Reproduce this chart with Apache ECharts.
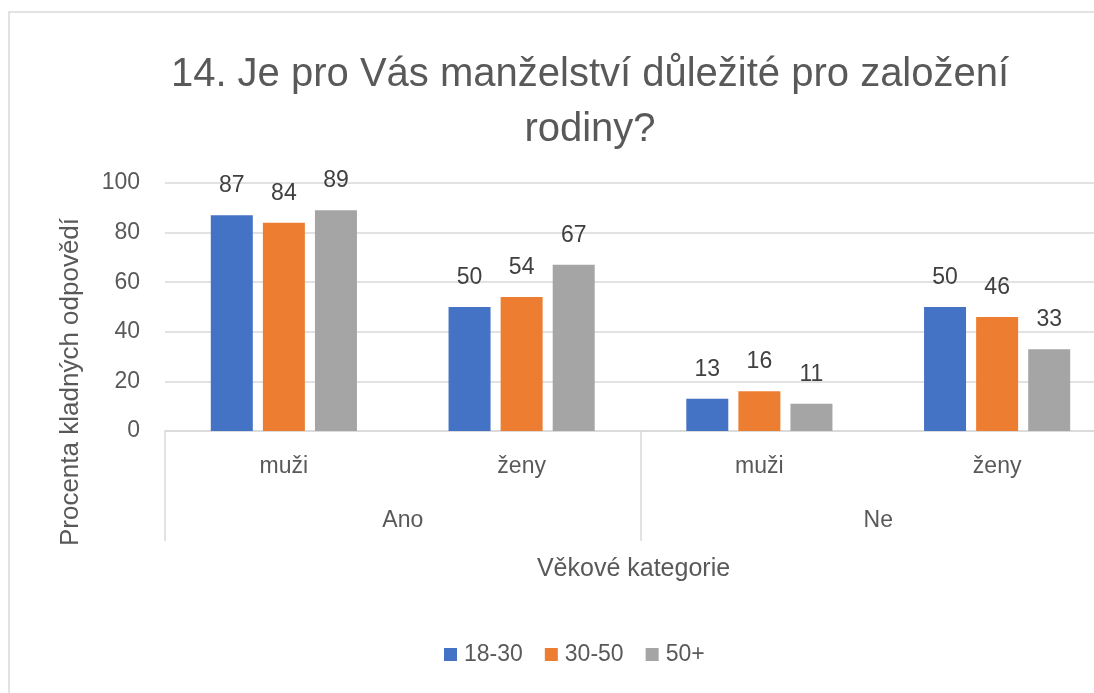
<!DOCTYPE html>
<html>
<head>
    <meta charset='utf-8'>
    <script src="https://cdn.jsdelivr.net/npm/echarts@6/dist/echarts.min.js"></script>
</head>
<body>
<style>
    html, body, #main {
        width: 100%;
        height: 100%;
        margin: 0;
        padding: 0;
        background: #fff;
    }
</style>
<div id="main"></div>
<script>
    var subCategories = ['muži', 'ženy', 'muži', 'ženy'];
    var groups = ['Ano', 'Ne'];
    var seriesNames = ['18-30', '30-50', '50+'];
    var values1830 = [87, 50, 13, 50];
    var values3050 = [84, 54, 16, 46];
    var values50 = [89, 67, 11, 33];
    var colors = ['#4472c4', '#ed7d31', '#a5a5a5'];

    var font = 'Liberation Sans, sans-serif';
    var chart = echarts.init(document.getElementById('main'));

    function bar(name, data, idx) {
        return {
            name: name,
            type: 'bar',
            data: data,
            barWidth: 42,
            barGap: '24%',
            itemStyle: {color: colors[idx]},
            label: {
                show: true,
                position: 'top',
                distance: 18,
                color: '#404040',
                fontSize: 23,
                fontFamily: font
            }
        };
    }

    chart.setOption({
        animation: false,
        title: {
            text: '14. Je pro Vás manželství důležité pro založení\nrodiny?',
            left: 585,
            textAlign: 'center',
            top: 42,
            textStyle: {
                color: '#595959',
                fontSize: 40,
                fontWeight: 'normal',
                fontFamily: font,
                lineHeight: 55
            }
        },
        legend: {
            top: 638,
            left: 439,
            itemWidth: 13,
            itemHeight: 13,
            itemGap: 22,
            icon: 'rect',
            textStyle: {color: '#595959', fontSize: 23, fontFamily: font, padding: [0, 0, 0, 2]},
            data: seriesNames
        },
        grid: {
            left: 165,
            width: 951,
            top: 183,
            height: 248,
            outerBoundsMode: 'none'
        },
        graphic: [{
            type: 'rect',
            shape: {x: 9, y: 12, width: 1200, height: 800},
            style: {fill: 'none', stroke: '#d9d9d9', lineWidth: 1.5}
        }, {
            type: 'text',
            x: 71,
            y: 382,
            rotation: Math.PI / 2,
            style: {
                text: 'Procenta kladných odpovědí',
                fill: '#595959',
                fontSize: 26,
                fontFamily: font,
                align: 'center',
                verticalAlign: 'middle'
            }
        }],
        xAxis: [{
            type: 'category',
            data: subCategories,
            position: 'bottom',
            axisLine: {lineStyle: {color: '#d9d9d9', width: 1.5}},
            axisTick: {show: false},
            axisLabel: {color: '#595959', fontSize: 23, fontFamily: font, margin: 24}
        }, {
            type: 'category',
            data: groups,
            position: 'bottom',
            axisLine: {show: false},
            axisTick: {show: true, length: 110, lineStyle: {color: '#d9d9d9', width: 1.5}},
            axisLabel: {color: '#595959', fontSize: 23, fontFamily: font, margin: 78},
            name: 'Věkové kategorie',
            nameLocation: 'middle',
            nameGap: 126,
            nameTextStyle: {color: '#595959', fontSize: 25, fontFamily: font, padding: [0, 14, 0, 0]}
        }],
        yAxis: {
            type: 'value',
            min: 0,
            max: 100,
            interval: 20,
            axisLine: {show: false},
            axisTick: {show: false},
            splitLine: {lineStyle: {color: '#d9d9d9', width: 1.5}},
            axisLabel: {color: '#595959', fontSize: 23, fontFamily: font, margin: 25}
        },
        series: [
            bar(seriesNames[0], values1830, 0),
            bar(seriesNames[1], values3050, 1),
            bar(seriesNames[2], values50, 2)
        ]
    });
</script>
</body>
</html>
